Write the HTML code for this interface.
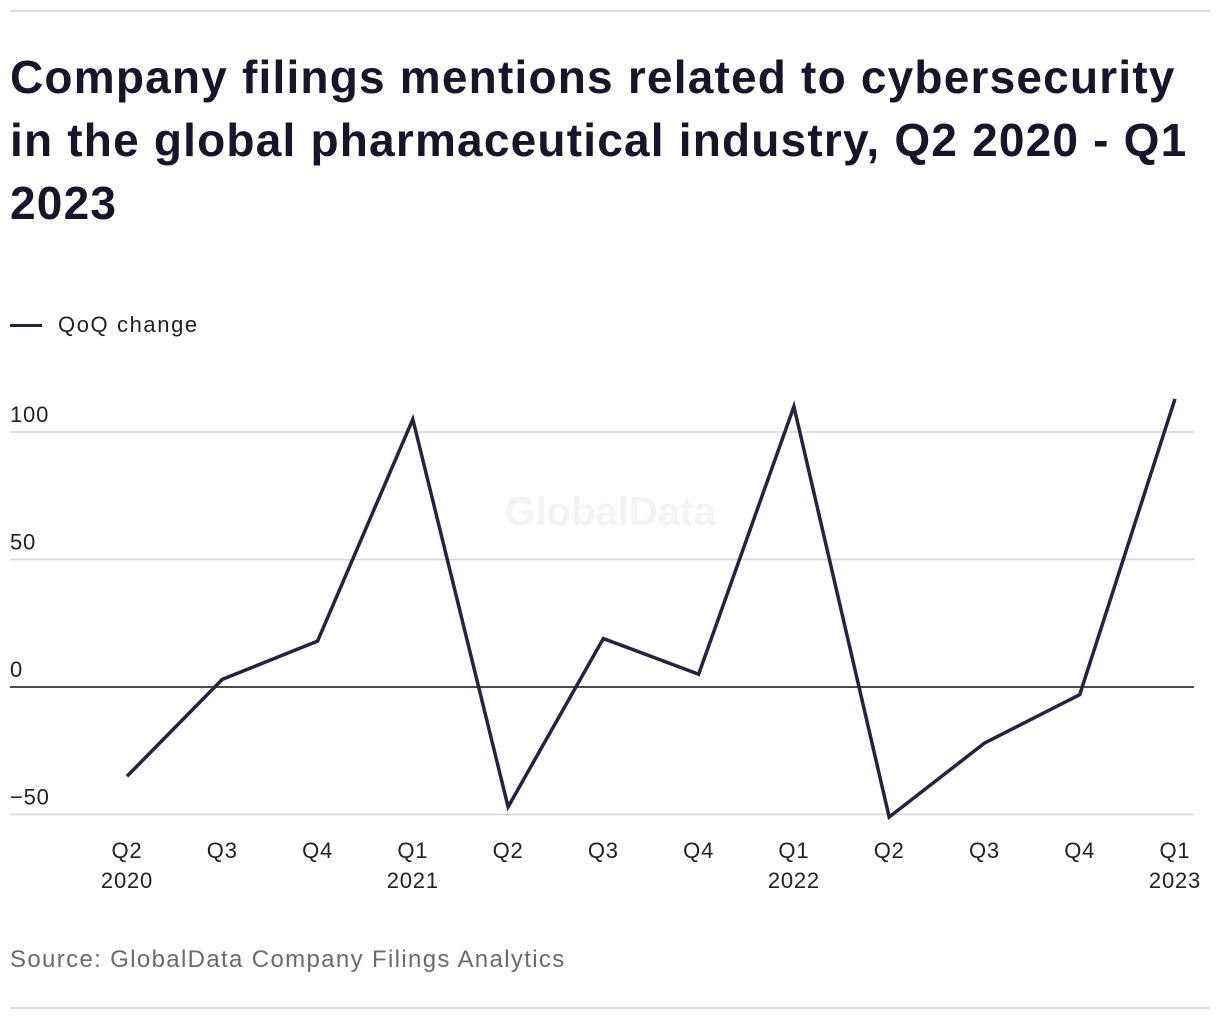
<!DOCTYPE html>
<html><head><meta charset="utf-8"><style>
body{margin:0;width:1220px;height:1020px;background:#fff;font-family:"Liberation Sans",sans-serif;overflow:hidden;position:relative;color:#1c1c2e}
.rule{position:absolute;left:10px;width:1200px;height:2px;background:#ddd}
h1{position:absolute;left:10px;top:46px;margin:0;width:1210px;font-size:46px;line-height:63px;font-weight:bold;color:#16162a;white-space:nowrap;letter-spacing:1.2px}
.legend{position:absolute;left:10px;top:312px;font-size:22px;color:#222;display:flex;align-items:center;letter-spacing:1.6px}
.legend span.sw{width:32px;height:3px;background:#24243f;margin-right:16px}
.src{position:absolute;left:10px;top:946px;font-size:24px;color:#6b6b6b;letter-spacing:1.35px}
svg{position:absolute;left:0;top:0}
</style></head><body>
<div class="rule" style="top:10px"></div>
<h1>Company filings mentions related to cybersecurity<br>in the global pharmaceutical industry, Q2 2020 - Q1<br>2023</h1>
<div class="legend"><span class="sw"></span>QoQ change</div>
<svg id="chart" width="1220" height="1020"></svg>
<div class="src">Source: GlobalData Company Filings Analytics</div>
<div class="rule" style="top:1007px"></div>
<script>
const quarters=["Q2","Q3","Q4","Q1","Q2","Q3","Q4","Q1","Q2","Q3","Q4","Q1"];
const years=["2020","","","2021","","","","2022","","","","2023"];
const values=[-35,3,18,105,-47,19,5,110,-51,-22,-3,113];
const yTicks=[-50,0,50,100];
const NS="http://www.w3.org/2000/svg";
const svg=document.getElementById('chart');
const x=i=>127+i*(1175-127)/(quarters.length-1);
const y=v=>687-v*2.55;
function mk(t,a){const e=document.createElementNS(NS,t);for(const k in a)e.setAttribute(k,a[k]);svg.appendChild(e);return e;}
yTicks.forEach(t=>{
 const l=mk('line',{x1:10,x2:1194,y1:y(t),y2:y(t),stroke:t===0?'#111':'#d6d6d6','stroke-width':1.5});
 
 
 const tx=mk('text',{x:10,y:y(t)-10,'font-size':22,fill:'#222','letter-spacing':0.8,'font-family':'Liberation Sans, sans-serif'});
 tx.textContent=t<0?'\u2212'+Math.abs(t):t;
 
 
});
const wm=mk('text',{x:610,y:525,'font-size':40,'font-weight':'bold',fill:'#f3f3f3','text-anchor':'middle','font-family':'Liberation Sans, sans-serif'});
wm.textContent='GlobalData';


quarters.forEach((q,i)=>{
 const t=mk('text',{x:x(i),y:858,'font-size':22,fill:'#222','letter-spacing':0.8,'text-anchor':'middle','font-family':'Liberation Sans, sans-serif'});
 t.textContent=q;
 
 
 if(years[i]){const t2=mk('text',{x:x(i),y:888,'font-size':22,fill:'#222','letter-spacing':0.8,'text-anchor':'middle','font-family':'Liberation Sans, sans-serif'});
 t2.textContent=years[i];
 
 }
});
const p=mk('polyline',{points:values.map((v,i)=>x(i)+','+y(v)).join(' '),fill:'none',stroke:'#24243f','stroke-width':3.5,'stroke-linejoin':'miter'});


</script>
</body></html>
